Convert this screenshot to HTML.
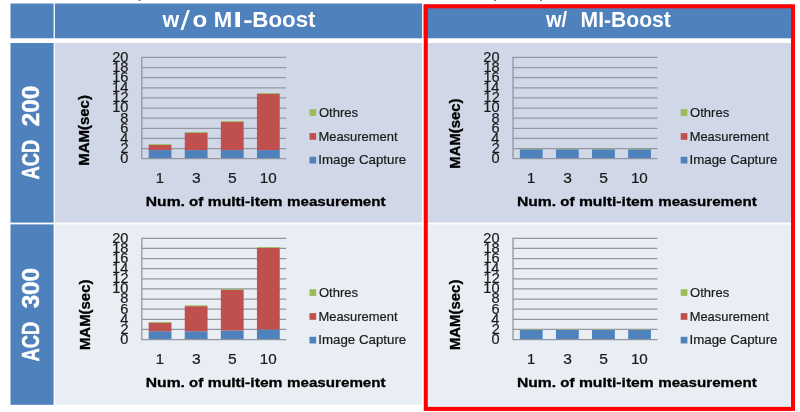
<!DOCTYPE html>
<html><head><meta charset="utf-8"><title>MI-Boost chart</title>
<style>html,body{margin:0;padding:0;background:#fff;}svg{display:block;will-change:transform;}text{font-family:"Liberation Sans",sans-serif;font-kerning:none;}</style></head>
<body>
<svg width="800" height="412" viewBox="0 0 800 412">
<rect x="10.50" y="3.50" width="43.10" height="34.80" fill="#4f81bd"/>
<rect x="54.90" y="3.50" width="367.20" height="34.80" fill="#4f81bd"/>
<rect x="423.50" y="4.40" width="367.50" height="33.90" fill="#4f81bd"/>
<rect x="10.50" y="43.00" width="43.10" height="179.60" fill="#4f81bd"/>
<rect x="54.90" y="43.00" width="367.20" height="179.60" fill="#d0d8e8"/>
<rect x="423.50" y="43.00" width="367.50" height="179.60" fill="#d0d8e8"/>
<rect x="10.50" y="224.40" width="43.10" height="180.40" fill="#4f81bd"/>
<rect x="54.90" y="224.40" width="367.20" height="180.40" fill="#e9edf4"/>
<rect x="423.50" y="224.40" width="367.50" height="182.60" fill="#e9edf4"/>
<text transform="translate(162.46,26.50) scale(1.0007,1)" font-size="21.51" font-weight="bold" fill="#fff">w</text>
<text transform="translate(180.40,30.10) scale(1.2258,1)" font-size="27.60" fill="#fff">/</text>
<text transform="translate(192.46,26.50) scale(1.1213,1)" font-size="21.51" font-weight="bold" fill="#fff">o</text>
<text transform="translate(213.72,26.50) scale(1.0305,1)" font-size="21.51" font-weight="bold" fill="#fff">M</text>
<text transform="translate(233.26,26.50) scale(1.4845,1)" font-size="21.51" font-weight="bold" fill="#fff">I</text>
<text transform="translate(243.19,26.50) scale(1.3182,1)" font-size="21.51" font-weight="bold" fill="#fff">-</text>
<text transform="translate(252.25,26.50) scale(1.0390,1)" font-size="21.51" font-weight="bold" fill="#fff">Boost</text>
<text transform="translate(546.06,27.00) scale(0.9435,1)" font-size="21.22" font-weight="bold" fill="#fff">w/</text>
<text transform="translate(580.59,27.00) scale(0.9946,1)" font-size="21.22" font-weight="bold" fill="#fff">MI-Boost</text>
<text transform="translate(38.90,179.46) rotate(-90) scale(0.7719,1)" font-size="23.69" font-weight="bold" fill="#fff" stroke="#fff" stroke-width="0.5">ACD</text>
<text transform="translate(38.90,126.14) rotate(-90) scale(1.0202,1)" font-size="23.69" font-weight="bold" fill="#fff" stroke="#fff" stroke-width="0.5">200</text>
<text transform="translate(38.90,361.46) rotate(-90) scale(0.7740,1)" font-size="23.69" font-weight="bold" fill="#fff" stroke="#fff" stroke-width="0.5">ACD</text>
<text transform="translate(38.90,308.36) rotate(-90) scale(1.0233,1)" font-size="23.69" font-weight="bold" fill="#fff" stroke="#fff" stroke-width="0.5">300</text>
<line x1="141.80" y1="158.70" x2="286.20" y2="158.70" stroke="#94979f" stroke-width="1.3"/>
<line x1="141.80" y1="148.57" x2="286.20" y2="148.57" stroke="#94979f" stroke-width="1.3"/>
<line x1="141.80" y1="138.44" x2="286.20" y2="138.44" stroke="#94979f" stroke-width="1.3"/>
<line x1="141.80" y1="128.31" x2="286.20" y2="128.31" stroke="#94979f" stroke-width="1.3"/>
<line x1="141.80" y1="118.18" x2="286.20" y2="118.18" stroke="#94979f" stroke-width="1.3"/>
<line x1="141.80" y1="108.05" x2="286.20" y2="108.05" stroke="#94979f" stroke-width="1.3"/>
<line x1="141.80" y1="97.92" x2="286.20" y2="97.92" stroke="#94979f" stroke-width="1.3"/>
<line x1="141.80" y1="87.79" x2="286.20" y2="87.79" stroke="#94979f" stroke-width="1.3"/>
<line x1="141.80" y1="77.66" x2="286.20" y2="77.66" stroke="#94979f" stroke-width="1.3"/>
<line x1="141.80" y1="67.53" x2="286.20" y2="67.53" stroke="#94979f" stroke-width="1.3"/>
<line x1="141.80" y1="57.40" x2="286.20" y2="57.40" stroke="#94979f" stroke-width="1.3"/>
<line x1="141.80" y1="56.80" x2="141.80" y2="159.30" stroke="#94979f" stroke-width="1.3"/>
<rect x="148.65" y="150.09" width="22.80" height="8.01" fill="#4f81bd"/>
<rect x="148.65" y="145.02" width="22.80" height="5.06" fill="#c0504d"/>
<rect x="148.65" y="144.16" width="22.80" height="0.86" fill="#9bbb59"/>
<rect x="184.75" y="150.09" width="22.80" height="8.01" fill="#4f81bd"/>
<rect x="184.75" y="132.87" width="22.80" height="17.22" fill="#c0504d"/>
<rect x="184.75" y="132.01" width="22.80" height="0.86" fill="#9bbb59"/>
<rect x="220.85" y="150.09" width="22.80" height="8.01" fill="#4f81bd"/>
<rect x="220.85" y="121.98" width="22.80" height="28.11" fill="#c0504d"/>
<rect x="220.85" y="121.12" width="22.80" height="0.86" fill="#9bbb59"/>
<rect x="256.95" y="150.09" width="22.80" height="8.01" fill="#4f81bd"/>
<rect x="256.95" y="93.87" width="22.80" height="56.22" fill="#c0504d"/>
<rect x="256.95" y="93.01" width="22.80" height="0.86" fill="#9bbb59"/>
<text transform="translate(120.27,163.10) scale(1.0122,1)" font-size="14.39" fill="#1a1a1a" stroke="#1a1a1a" stroke-width="0.2">0</text>
<text transform="translate(120.43,152.97) scale(1.0122,1)" font-size="14.39" fill="#1a1a1a" stroke="#1a1a1a" stroke-width="0.2">2</text>
<text transform="translate(120.13,142.84) scale(1.0122,1)" font-size="14.39" fill="#1a1a1a" stroke="#1a1a1a" stroke-width="0.2">4</text>
<text transform="translate(120.34,132.71) scale(1.0122,1)" font-size="14.39" fill="#1a1a1a" stroke="#1a1a1a" stroke-width="0.2">6</text>
<text transform="translate(120.33,122.58) scale(1.0122,1)" font-size="14.39" fill="#1a1a1a" stroke="#1a1a1a" stroke-width="0.2">8</text>
<text transform="translate(112.17,112.45) scale(1.0122,1)" font-size="14.39" fill="#1a1a1a" stroke="#1a1a1a" stroke-width="0.2">10</text>
<text transform="translate(112.33,102.32) scale(1.0122,1)" font-size="14.39" fill="#1a1a1a" stroke="#1a1a1a" stroke-width="0.2">12</text>
<text transform="translate(112.03,92.19) scale(1.0122,1)" font-size="14.39" fill="#1a1a1a" stroke="#1a1a1a" stroke-width="0.2">14</text>
<text transform="translate(112.24,82.06) scale(1.0122,1)" font-size="14.39" fill="#1a1a1a" stroke="#1a1a1a" stroke-width="0.2">16</text>
<text transform="translate(112.23,71.93) scale(1.0122,1)" font-size="14.39" fill="#1a1a1a" stroke="#1a1a1a" stroke-width="0.2">18</text>
<text transform="translate(112.17,61.80) scale(1.0122,1)" font-size="14.39" fill="#1a1a1a" stroke="#1a1a1a" stroke-width="0.2">20</text>
<text transform="translate(155.82,182.60) scale(1.0421,1)" font-size="14.24" fill="#1a1a1a" stroke="#1a1a1a" stroke-width="0.2">1</text>
<text transform="translate(191.96,182.60) scale(1.0957,1)" font-size="14.24" fill="#1a1a1a" stroke="#1a1a1a" stroke-width="0.2">3</text>
<text transform="translate(228.03,182.60) scale(1.0957,1)" font-size="14.24" fill="#1a1a1a" stroke="#1a1a1a" stroke-width="0.2">5</text>
<text transform="translate(259.69,182.60) scale(1.0702,1)" font-size="14.24" fill="#1a1a1a" stroke="#1a1a1a" stroke-width="0.2">10</text>
<text transform="translate(145.75,206.00) scale(1.1609,1)" font-size="13.52" font-weight="bold" fill="#000" stroke="#000" stroke-width="0.3">Num.</text>
<text transform="translate(189.01,206.00) scale(1.1137,1)" font-size="13.52" font-weight="bold" fill="#000" stroke="#000" stroke-width="0.3">of</text>
<text transform="translate(207.77,206.00) scale(1.1582,1)" font-size="13.52" font-weight="bold" fill="#000" stroke="#000" stroke-width="0.3">multi-item</text>
<text transform="translate(287.00,206.00) scale(1.1226,1)" font-size="13.52" font-weight="bold" fill="#000" stroke="#000" stroke-width="0.3">measurement</text>
<text transform="translate(88.50,165.80) rotate(-90) scale(1.0625,1)" font-size="14.10" font-weight="bold" fill="#000" stroke="#000" stroke-width="0.3">MAM(sec)</text>
<rect x="309.50" y="109.20" width="6.70" height="6.70" fill="#9bbb59"/>
<text transform="translate(318.88,116.90) scale(0.9983,1)" font-size="13.08" fill="#1a1a1a" stroke="#1a1a1a" stroke-width="0.2">Othres</text>
<rect x="309.50" y="133.10" width="6.70" height="6.70" fill="#c0504d"/>
<text transform="translate(318.44,140.60) scale(1.0122,1)" font-size="12.79" fill="#1a1a1a" stroke="#1a1a1a" stroke-width="0.2">Measurement</text>
<rect x="309.50" y="156.80" width="6.70" height="6.70" fill="#4f81bd"/>
<text transform="translate(318.27,164.20) scale(1.0403,1)" font-size="12.79" fill="#1a1a1a" stroke="#1a1a1a" stroke-width="0.2">Image Capture</text>
<line x1="513.00" y1="158.70" x2="657.40" y2="158.70" stroke="#94979f" stroke-width="1.3"/>
<line x1="513.00" y1="148.57" x2="657.40" y2="148.57" stroke="#94979f" stroke-width="1.3"/>
<line x1="513.00" y1="138.44" x2="657.40" y2="138.44" stroke="#94979f" stroke-width="1.3"/>
<line x1="513.00" y1="128.31" x2="657.40" y2="128.31" stroke="#94979f" stroke-width="1.3"/>
<line x1="513.00" y1="118.18" x2="657.40" y2="118.18" stroke="#94979f" stroke-width="1.3"/>
<line x1="513.00" y1="108.05" x2="657.40" y2="108.05" stroke="#94979f" stroke-width="1.3"/>
<line x1="513.00" y1="97.92" x2="657.40" y2="97.92" stroke="#94979f" stroke-width="1.3"/>
<line x1="513.00" y1="87.79" x2="657.40" y2="87.79" stroke="#94979f" stroke-width="1.3"/>
<line x1="513.00" y1="77.66" x2="657.40" y2="77.66" stroke="#94979f" stroke-width="1.3"/>
<line x1="513.00" y1="67.53" x2="657.40" y2="67.53" stroke="#94979f" stroke-width="1.3"/>
<line x1="513.00" y1="57.40" x2="657.40" y2="57.40" stroke="#94979f" stroke-width="1.3"/>
<line x1="513.00" y1="56.80" x2="513.00" y2="159.30" stroke="#94979f" stroke-width="1.3"/>
<rect x="519.85" y="149.33" width="22.80" height="8.77" fill="#4f81bd"/>
<rect x="519.85" y="148.92" width="22.80" height="0.41" fill="#9bbb59"/>
<rect x="555.95" y="149.33" width="22.80" height="8.77" fill="#4f81bd"/>
<rect x="555.95" y="148.92" width="22.80" height="0.41" fill="#9bbb59"/>
<rect x="592.05" y="149.33" width="22.80" height="8.77" fill="#4f81bd"/>
<rect x="592.05" y="148.92" width="22.80" height="0.41" fill="#9bbb59"/>
<rect x="628.15" y="149.33" width="22.80" height="8.77" fill="#4f81bd"/>
<rect x="628.15" y="148.92" width="22.80" height="0.41" fill="#9bbb59"/>
<text transform="translate(491.47,163.10) scale(1.0122,1)" font-size="14.39" fill="#1a1a1a" stroke="#1a1a1a" stroke-width="0.2">0</text>
<text transform="translate(491.63,152.97) scale(1.0122,1)" font-size="14.39" fill="#1a1a1a" stroke="#1a1a1a" stroke-width="0.2">2</text>
<text transform="translate(491.33,142.84) scale(1.0122,1)" font-size="14.39" fill="#1a1a1a" stroke="#1a1a1a" stroke-width="0.2">4</text>
<text transform="translate(491.54,132.71) scale(1.0122,1)" font-size="14.39" fill="#1a1a1a" stroke="#1a1a1a" stroke-width="0.2">6</text>
<text transform="translate(491.53,122.58) scale(1.0122,1)" font-size="14.39" fill="#1a1a1a" stroke="#1a1a1a" stroke-width="0.2">8</text>
<text transform="translate(483.37,112.45) scale(1.0122,1)" font-size="14.39" fill="#1a1a1a" stroke="#1a1a1a" stroke-width="0.2">10</text>
<text transform="translate(483.53,102.32) scale(1.0122,1)" font-size="14.39" fill="#1a1a1a" stroke="#1a1a1a" stroke-width="0.2">12</text>
<text transform="translate(483.23,92.19) scale(1.0122,1)" font-size="14.39" fill="#1a1a1a" stroke="#1a1a1a" stroke-width="0.2">14</text>
<text transform="translate(483.44,82.06) scale(1.0122,1)" font-size="14.39" fill="#1a1a1a" stroke="#1a1a1a" stroke-width="0.2">16</text>
<text transform="translate(483.43,71.93) scale(1.0122,1)" font-size="14.39" fill="#1a1a1a" stroke="#1a1a1a" stroke-width="0.2">18</text>
<text transform="translate(483.37,61.80) scale(1.0122,1)" font-size="14.39" fill="#1a1a1a" stroke="#1a1a1a" stroke-width="0.2">20</text>
<text transform="translate(527.02,182.60) scale(1.0421,1)" font-size="14.24" fill="#1a1a1a" stroke="#1a1a1a" stroke-width="0.2">1</text>
<text transform="translate(563.16,182.60) scale(1.0957,1)" font-size="14.24" fill="#1a1a1a" stroke="#1a1a1a" stroke-width="0.2">3</text>
<text transform="translate(599.23,182.60) scale(1.0957,1)" font-size="14.24" fill="#1a1a1a" stroke="#1a1a1a" stroke-width="0.2">5</text>
<text transform="translate(630.89,182.60) scale(1.0702,1)" font-size="14.24" fill="#1a1a1a" stroke="#1a1a1a" stroke-width="0.2">10</text>
<text transform="translate(516.95,206.00) scale(1.1609,1)" font-size="13.52" font-weight="bold" fill="#000" stroke="#000" stroke-width="0.3">Num.</text>
<text transform="translate(560.21,206.00) scale(1.1137,1)" font-size="13.52" font-weight="bold" fill="#000" stroke="#000" stroke-width="0.3">of</text>
<text transform="translate(578.97,206.00) scale(1.1582,1)" font-size="13.52" font-weight="bold" fill="#000" stroke="#000" stroke-width="0.3">multi-item</text>
<text transform="translate(658.20,206.00) scale(1.1226,1)" font-size="13.52" font-weight="bold" fill="#000" stroke="#000" stroke-width="0.3">measurement</text>
<text transform="translate(460.10,168.69) rotate(-90) scale(1.0116,1)" font-size="14.68" font-weight="bold" fill="#000" stroke="#000" stroke-width="0.3">MAM(sec)</text>
<rect x="680.70" y="109.20" width="6.70" height="6.70" fill="#9bbb59"/>
<text transform="translate(690.08,116.90) scale(0.9983,1)" font-size="13.08" fill="#1a1a1a" stroke="#1a1a1a" stroke-width="0.2">Othres</text>
<rect x="680.70" y="133.10" width="6.70" height="6.70" fill="#c0504d"/>
<text transform="translate(689.64,140.60) scale(1.0122,1)" font-size="12.79" fill="#1a1a1a" stroke="#1a1a1a" stroke-width="0.2">Measurement</text>
<rect x="680.70" y="156.80" width="6.70" height="6.70" fill="#4f81bd"/>
<text transform="translate(689.47,164.20) scale(1.0403,1)" font-size="12.79" fill="#1a1a1a" stroke="#1a1a1a" stroke-width="0.2">Image Capture</text>
<line x1="141.80" y1="339.60" x2="286.20" y2="339.60" stroke="#94979f" stroke-width="1.3"/>
<line x1="141.80" y1="329.47" x2="286.20" y2="329.47" stroke="#94979f" stroke-width="1.3"/>
<line x1="141.80" y1="319.34" x2="286.20" y2="319.34" stroke="#94979f" stroke-width="1.3"/>
<line x1="141.80" y1="309.21" x2="286.20" y2="309.21" stroke="#94979f" stroke-width="1.3"/>
<line x1="141.80" y1="299.08" x2="286.20" y2="299.08" stroke="#94979f" stroke-width="1.3"/>
<line x1="141.80" y1="288.95" x2="286.20" y2="288.95" stroke="#94979f" stroke-width="1.3"/>
<line x1="141.80" y1="278.82" x2="286.20" y2="278.82" stroke="#94979f" stroke-width="1.3"/>
<line x1="141.80" y1="268.69" x2="286.20" y2="268.69" stroke="#94979f" stroke-width="1.3"/>
<line x1="141.80" y1="258.56" x2="286.20" y2="258.56" stroke="#94979f" stroke-width="1.3"/>
<line x1="141.80" y1="248.43" x2="286.20" y2="248.43" stroke="#94979f" stroke-width="1.3"/>
<line x1="141.80" y1="238.30" x2="286.20" y2="238.30" stroke="#94979f" stroke-width="1.3"/>
<line x1="141.80" y1="237.70" x2="141.80" y2="340.20" stroke="#94979f" stroke-width="1.3"/>
<rect x="148.65" y="331.24" width="22.80" height="7.76" fill="#4f81bd"/>
<rect x="148.65" y="322.89" width="22.80" height="8.36" fill="#c0504d"/>
<rect x="148.65" y="322.02" width="22.80" height="0.86" fill="#9bbb59"/>
<rect x="184.75" y="331.24" width="22.80" height="7.76" fill="#4f81bd"/>
<rect x="184.75" y="306.17" width="22.80" height="25.07" fill="#c0504d"/>
<rect x="184.75" y="305.31" width="22.80" height="0.86" fill="#9bbb59"/>
<rect x="220.85" y="330.48" width="22.80" height="8.52" fill="#4f81bd"/>
<rect x="220.85" y="289.96" width="22.80" height="40.52" fill="#c0504d"/>
<rect x="220.85" y="289.10" width="22.80" height="0.86" fill="#9bbb59"/>
<rect x="256.95" y="329.47" width="22.80" height="9.53" fill="#4f81bd"/>
<rect x="256.95" y="247.92" width="22.80" height="81.55" fill="#c0504d"/>
<rect x="256.95" y="247.06" width="22.80" height="0.86" fill="#9bbb59"/>
<text transform="translate(120.27,344.00) scale(1.0122,1)" font-size="14.39" fill="#1a1a1a" stroke="#1a1a1a" stroke-width="0.2">0</text>
<text transform="translate(120.43,333.87) scale(1.0122,1)" font-size="14.39" fill="#1a1a1a" stroke="#1a1a1a" stroke-width="0.2">2</text>
<text transform="translate(120.13,323.74) scale(1.0122,1)" font-size="14.39" fill="#1a1a1a" stroke="#1a1a1a" stroke-width="0.2">4</text>
<text transform="translate(120.34,313.61) scale(1.0122,1)" font-size="14.39" fill="#1a1a1a" stroke="#1a1a1a" stroke-width="0.2">6</text>
<text transform="translate(120.33,303.48) scale(1.0122,1)" font-size="14.39" fill="#1a1a1a" stroke="#1a1a1a" stroke-width="0.2">8</text>
<text transform="translate(112.17,293.35) scale(1.0122,1)" font-size="14.39" fill="#1a1a1a" stroke="#1a1a1a" stroke-width="0.2">10</text>
<text transform="translate(112.33,283.22) scale(1.0122,1)" font-size="14.39" fill="#1a1a1a" stroke="#1a1a1a" stroke-width="0.2">12</text>
<text transform="translate(112.03,273.09) scale(1.0122,1)" font-size="14.39" fill="#1a1a1a" stroke="#1a1a1a" stroke-width="0.2">14</text>
<text transform="translate(112.24,262.96) scale(1.0122,1)" font-size="14.39" fill="#1a1a1a" stroke="#1a1a1a" stroke-width="0.2">16</text>
<text transform="translate(112.23,252.83) scale(1.0122,1)" font-size="14.39" fill="#1a1a1a" stroke="#1a1a1a" stroke-width="0.2">18</text>
<text transform="translate(112.17,242.70) scale(1.0122,1)" font-size="14.39" fill="#1a1a1a" stroke="#1a1a1a" stroke-width="0.2">20</text>
<text transform="translate(155.82,363.50) scale(1.0421,1)" font-size="14.24" fill="#1a1a1a" stroke="#1a1a1a" stroke-width="0.2">1</text>
<text transform="translate(191.96,363.50) scale(1.0957,1)" font-size="14.24" fill="#1a1a1a" stroke="#1a1a1a" stroke-width="0.2">3</text>
<text transform="translate(228.03,363.50) scale(1.0957,1)" font-size="14.24" fill="#1a1a1a" stroke="#1a1a1a" stroke-width="0.2">5</text>
<text transform="translate(259.69,363.50) scale(1.0702,1)" font-size="14.24" fill="#1a1a1a" stroke="#1a1a1a" stroke-width="0.2">10</text>
<text transform="translate(145.75,386.90) scale(1.1609,1)" font-size="13.52" font-weight="bold" fill="#000" stroke="#000" stroke-width="0.3">Num.</text>
<text transform="translate(189.01,386.90) scale(1.1137,1)" font-size="13.52" font-weight="bold" fill="#000" stroke="#000" stroke-width="0.3">of</text>
<text transform="translate(207.77,386.90) scale(1.1582,1)" font-size="13.52" font-weight="bold" fill="#000" stroke="#000" stroke-width="0.3">multi-item</text>
<text transform="translate(287.00,386.90) scale(1.1226,1)" font-size="13.52" font-weight="bold" fill="#000" stroke="#000" stroke-width="0.3">measurement</text>
<text transform="translate(90.10,350.10) rotate(-90) scale(1.0610,1)" font-size="14.10" font-weight="bold" fill="#000" stroke="#000" stroke-width="0.3">MAM(sec)</text>
<rect x="309.50" y="289.20" width="6.70" height="6.70" fill="#9bbb59"/>
<text transform="translate(318.88,296.90) scale(0.9983,1)" font-size="13.08" fill="#1a1a1a" stroke="#1a1a1a" stroke-width="0.2">Othres</text>
<rect x="309.50" y="313.10" width="6.70" height="6.70" fill="#c0504d"/>
<text transform="translate(318.44,320.60) scale(1.0122,1)" font-size="12.79" fill="#1a1a1a" stroke="#1a1a1a" stroke-width="0.2">Measurement</text>
<rect x="309.50" y="336.80" width="6.70" height="6.70" fill="#4f81bd"/>
<text transform="translate(318.27,344.20) scale(1.0403,1)" font-size="12.79" fill="#1a1a1a" stroke="#1a1a1a" stroke-width="0.2">Image Capture</text>
<line x1="513.00" y1="339.60" x2="657.40" y2="339.60" stroke="#94979f" stroke-width="1.3"/>
<line x1="513.00" y1="329.47" x2="657.40" y2="329.47" stroke="#94979f" stroke-width="1.3"/>
<line x1="513.00" y1="319.34" x2="657.40" y2="319.34" stroke="#94979f" stroke-width="1.3"/>
<line x1="513.00" y1="309.21" x2="657.40" y2="309.21" stroke="#94979f" stroke-width="1.3"/>
<line x1="513.00" y1="299.08" x2="657.40" y2="299.08" stroke="#94979f" stroke-width="1.3"/>
<line x1="513.00" y1="288.95" x2="657.40" y2="288.95" stroke="#94979f" stroke-width="1.3"/>
<line x1="513.00" y1="278.82" x2="657.40" y2="278.82" stroke="#94979f" stroke-width="1.3"/>
<line x1="513.00" y1="268.69" x2="657.40" y2="268.69" stroke="#94979f" stroke-width="1.3"/>
<line x1="513.00" y1="258.56" x2="657.40" y2="258.56" stroke="#94979f" stroke-width="1.3"/>
<line x1="513.00" y1="248.43" x2="657.40" y2="248.43" stroke="#94979f" stroke-width="1.3"/>
<line x1="513.00" y1="238.30" x2="657.40" y2="238.30" stroke="#94979f" stroke-width="1.3"/>
<line x1="513.00" y1="237.70" x2="513.00" y2="340.20" stroke="#94979f" stroke-width="1.3"/>
<rect x="519.85" y="329.98" width="22.80" height="9.02" fill="#4f81bd"/>
<rect x="519.85" y="329.57" width="22.80" height="0.41" fill="#9bbb59"/>
<rect x="555.95" y="329.98" width="22.80" height="9.02" fill="#4f81bd"/>
<rect x="555.95" y="329.57" width="22.80" height="0.41" fill="#9bbb59"/>
<rect x="592.05" y="329.98" width="22.80" height="9.02" fill="#4f81bd"/>
<rect x="592.05" y="329.57" width="22.80" height="0.41" fill="#9bbb59"/>
<rect x="628.15" y="329.98" width="22.80" height="9.02" fill="#4f81bd"/>
<rect x="628.15" y="329.57" width="22.80" height="0.41" fill="#9bbb59"/>
<text transform="translate(491.47,344.00) scale(1.0122,1)" font-size="14.39" fill="#1a1a1a" stroke="#1a1a1a" stroke-width="0.2">0</text>
<text transform="translate(491.63,333.87) scale(1.0122,1)" font-size="14.39" fill="#1a1a1a" stroke="#1a1a1a" stroke-width="0.2">2</text>
<text transform="translate(491.33,323.74) scale(1.0122,1)" font-size="14.39" fill="#1a1a1a" stroke="#1a1a1a" stroke-width="0.2">4</text>
<text transform="translate(491.54,313.61) scale(1.0122,1)" font-size="14.39" fill="#1a1a1a" stroke="#1a1a1a" stroke-width="0.2">6</text>
<text transform="translate(491.53,303.48) scale(1.0122,1)" font-size="14.39" fill="#1a1a1a" stroke="#1a1a1a" stroke-width="0.2">8</text>
<text transform="translate(483.37,293.35) scale(1.0122,1)" font-size="14.39" fill="#1a1a1a" stroke="#1a1a1a" stroke-width="0.2">10</text>
<text transform="translate(483.53,283.22) scale(1.0122,1)" font-size="14.39" fill="#1a1a1a" stroke="#1a1a1a" stroke-width="0.2">12</text>
<text transform="translate(483.23,273.09) scale(1.0122,1)" font-size="14.39" fill="#1a1a1a" stroke="#1a1a1a" stroke-width="0.2">14</text>
<text transform="translate(483.44,262.96) scale(1.0122,1)" font-size="14.39" fill="#1a1a1a" stroke="#1a1a1a" stroke-width="0.2">16</text>
<text transform="translate(483.43,252.83) scale(1.0122,1)" font-size="14.39" fill="#1a1a1a" stroke="#1a1a1a" stroke-width="0.2">18</text>
<text transform="translate(483.37,242.70) scale(1.0122,1)" font-size="14.39" fill="#1a1a1a" stroke="#1a1a1a" stroke-width="0.2">20</text>
<text transform="translate(527.02,363.50) scale(1.0421,1)" font-size="14.24" fill="#1a1a1a" stroke="#1a1a1a" stroke-width="0.2">1</text>
<text transform="translate(563.16,363.50) scale(1.0957,1)" font-size="14.24" fill="#1a1a1a" stroke="#1a1a1a" stroke-width="0.2">3</text>
<text transform="translate(599.23,363.50) scale(1.0957,1)" font-size="14.24" fill="#1a1a1a" stroke="#1a1a1a" stroke-width="0.2">5</text>
<text transform="translate(630.89,363.50) scale(1.0702,1)" font-size="14.24" fill="#1a1a1a" stroke="#1a1a1a" stroke-width="0.2">10</text>
<text transform="translate(516.95,386.90) scale(1.1609,1)" font-size="13.52" font-weight="bold" fill="#000" stroke="#000" stroke-width="0.3">Num.</text>
<text transform="translate(560.21,386.90) scale(1.1137,1)" font-size="13.52" font-weight="bold" fill="#000" stroke="#000" stroke-width="0.3">of</text>
<text transform="translate(578.97,386.90) scale(1.1582,1)" font-size="13.52" font-weight="bold" fill="#000" stroke="#000" stroke-width="0.3">multi-item</text>
<text transform="translate(658.20,386.90) scale(1.1226,1)" font-size="13.52" font-weight="bold" fill="#000" stroke="#000" stroke-width="0.3">measurement</text>
<text transform="translate(459.50,350.10) rotate(-90) scale(1.0175,1)" font-size="14.68" font-weight="bold" fill="#000" stroke="#000" stroke-width="0.3">MAM(sec)</text>
<rect x="680.70" y="289.20" width="6.70" height="6.70" fill="#9bbb59"/>
<text transform="translate(690.08,296.90) scale(0.9983,1)" font-size="13.08" fill="#1a1a1a" stroke="#1a1a1a" stroke-width="0.2">Othres</text>
<rect x="680.70" y="313.10" width="6.70" height="6.70" fill="#c0504d"/>
<text transform="translate(689.64,320.60) scale(1.0122,1)" font-size="12.79" fill="#1a1a1a" stroke="#1a1a1a" stroke-width="0.2">Measurement</text>
<rect x="680.70" y="336.80" width="6.70" height="6.70" fill="#4f81bd"/>
<text transform="translate(689.47,344.20) scale(1.0403,1)" font-size="12.79" fill="#1a1a1a" stroke="#1a1a1a" stroke-width="0.2">Image Capture</text>
<rect x="425.8" y="6.3" width="367.2" height="402.6" fill="none" stroke="#ff0000" stroke-width="4"/>
<rect x="138.5" y="0" width="2" height="0.7" fill="#444"/>
<rect x="494.0" y="0" width="2" height="0.7" fill="#444"/>
<rect x="540.0" y="0" width="2" height="0.7" fill="#444"/>
</svg>
</body></html>
